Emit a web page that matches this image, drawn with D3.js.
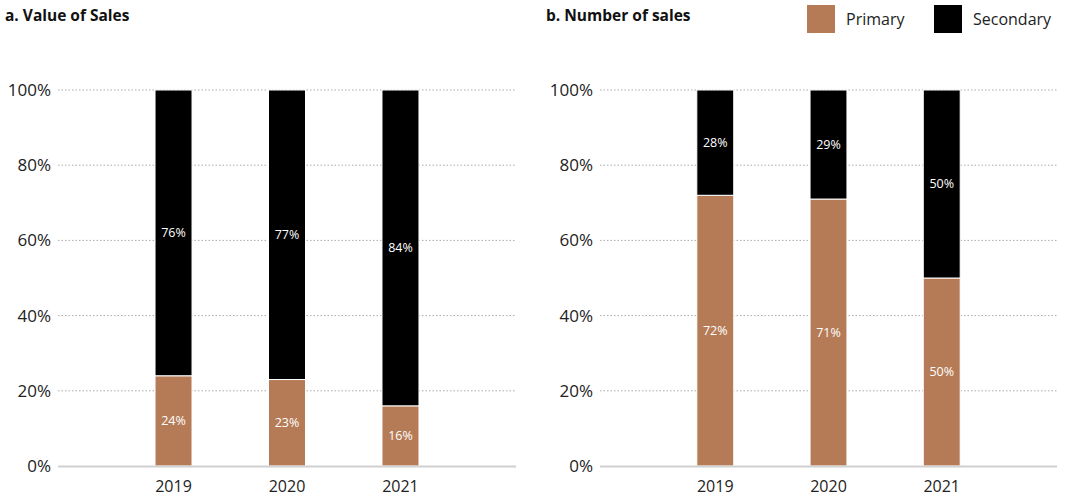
<!DOCTYPE html>
<html>
<head>
<meta charset="utf-8">
<script src="https://cdn.jsdelivr.net/npm/d3@7"></script>
<style>
  body { margin: 0; background: #fff; }
  text { font-family: "Open Sans", "DejaVu Sans", sans-serif; }
</style>
</head>
<body>
<svg id="chart" width="1067" height="496"></svg>
<script>
const years = ["2019", "2020", "2021"];
const valuePrimary = [24, 23, 16];
const valueSecondary = [76, 77, 84];
const numberPrimary = [72, 71, 50];
const numberSecondary = [28, 29, 50];
const yTicks = [0, 20, 40, 60, 80, 100];
const seriesNames = ["Primary", "Secondary"];
const seriesColors = ["#b57b56", "#000000"];

const svg = d3.select("#chart");

const panels = [
  { title: "a. Value of Sales", titleX: 5, x0: 58, x1: 516, primary: valuePrimary, secondary: valueSecondary },
  { title: "b. Number of sales", titleX: 546, x0: 600, x1: 1057, primary: numberPrimary, secondary: numberSecondary }
];

const y = d3.scaleLinear().domain([0, 100]).range([466, 90]);
const color = d3.scaleOrdinal().domain(seriesNames).range(seriesColors);

panels.forEach((p) => {
  const g = svg.append("g");

  g.append("text")
    .attr("x", p.titleX)
    .attr("y", 21)
    .attr("font-size", 15.5)
    .attr("font-weight", 700)
    .attr("fill", "#111")
    .text(p.title);

  const x = d3.scaleBand()
    .domain(years)
    .range([p.x0, p.x1])
    .paddingInner(0.674)
    .paddingOuter(0.855);

  // gridlines
  g.selectAll(".grid")
    .data(yTicks.filter((t) => t > 0))
    .join("line")
    .attr("x1", p.x0)
    .attr("x2", p.x1)
    .attr("y1", (d) => y(d))
    .attr("y2", (d) => y(d))
    .attr("stroke", "#aaa")
    .attr("stroke-width", 1)
    .attr("stroke-dasharray", "1.5,2");

  g.selectAll(".ylab")
    .data(yTicks)
    .join("text")
    .attr("x", p.x0 - 7)
    .attr("y", (d) => y(d))
    .attr("dy", "0.35em")
    .attr("text-anchor", "end")
    .attr("font-size", 17)
    .attr("fill", "#222")
    .text((d) => d + "%");

  const rows = years.map((yr, i) => ({ year: yr, Primary: p.primary[i], Secondary: p.secondary[i] }));
  const stacked = d3.stack().keys(seriesNames)(rows);

  stacked.forEach((layer) => {
    const lg = g.append("g");
    lg.selectAll("rect")
      .data(layer)
      .join("rect")
      .attr("x", (d) => x(d.data.year))
      .attr("width", x.bandwidth())
      .attr("y", (d) => y(d[1]))
      .attr("height", (d) => y(d[0]) - y(d[1]))
      .attr("fill", color(layer.key))
      .attr("stroke", "#fff")
      .attr("stroke-width", 1);

    lg.selectAll("text")
      .data(layer)
      .join("text")
      .attr("x", (d) => x(d.data.year) + x.bandwidth() / 2)
      .attr("y", (d) => y((d[0] + d[1]) / 2))
      .attr("dy", "0.35em")
      .attr("text-anchor", "middle")
      .attr("font-size", 12.5)
      .attr("fill", "#fff")
      .text((d) => d.data[layer.key] + "%");
  });

  // baseline
  g.append("line")
    .attr("x1", p.x0)
    .attr("x2", p.x1)
    .attr("y1", y(0) + 0.5)
    .attr("y2", y(0) + 0.5)
    .attr("stroke", "#d0d0d0")
    .attr("stroke-width", 2);

  g.selectAll(".xlab")
    .data(years)
    .join("text")
    .attr("x", (d) => x(d) + x.bandwidth() / 2)
    .attr("y", 486)
    .attr("dy", "0.35em")
    .attr("text-anchor", "middle")
    .attr("font-size", 16)
    .attr("fill", "#222")
    .text((d) => d);
});

// legend
const legendX = [807, 934];
const legend = svg.append("g");
seriesNames.forEach((name, i) => {
  legend.append("rect")
    .attr("x", legendX[i])
    .attr("y", 5)
    .attr("width", 28)
    .attr("height", 28)
    .attr("fill", color(name));
  legend.append("text")
    .attr("x", legendX[i] + 39)
    .attr("y", 19)
    .attr("dy", "0.35em")
    .attr("font-size", 16)
    .attr("fill", "#222")
    .text(name);
});
</script>
</body>
</html>
